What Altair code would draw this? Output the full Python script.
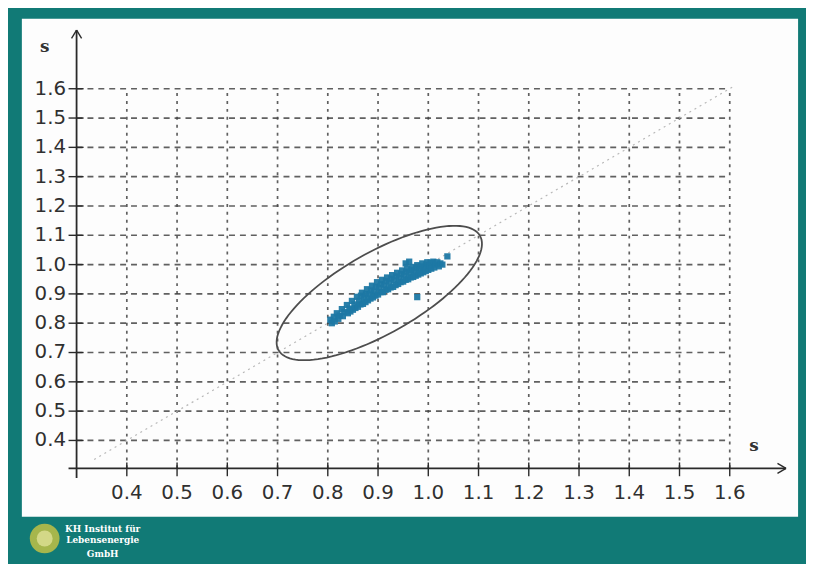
import altair as alt
import pandas as pd
import numpy as np

# ---------------- data ----------------
x_ticks = [0.4, 0.5, 0.6, 0.7, 0.8, 0.9, 1.0, 1.1, 1.2, 1.3, 1.4, 1.5, 1.6]
x_labels = ["0.4", "0.5", "0.6", "0.7", "0.8", "0.9", "1.0", "1.1", "1.2", "1.3", "1.4", "1.5", "1.6"]
y_ticks = [0.4, 0.5, 0.6, 0.7, 0.8, 0.9, 1.0, 1.1, 1.2, 1.3, 1.4, 1.5, 1.6]
y_labels = ["0.4", "0.5", "0.6", "0.7", "0.8", "0.9", "1.0", "1.1", "1.2", "1.3", "1.4", "1.5", "1.6"]

scatter_x = [0.805, 0.808, 0.812, 0.814, 0.818, 0.821, 0.824, 0.828, 0.830, 0.833,
             0.838, 0.840, 0.843, 0.845, 0.848, 0.850, 0.853, 0.855,
             0.858, 0.860, 0.862, 0.865, 0.866, 0.868, 0.870, 0.872, 0.875, 0.876,
             0.878, 0.880, 0.882, 0.885, 0.886, 0.888, 0.890, 0.892, 0.895, 0.896,
             0.898, 0.900, 0.902, 0.905, 0.906, 0.908, 0.910, 0.912, 0.915, 0.916,
             0.918, 0.920, 0.922, 0.925, 0.926, 0.928, 0.930, 0.932, 0.935, 0.936,
             0.938, 0.940, 0.942, 0.945, 0.946, 0.948, 0.950, 0.952, 0.955, 0.956,
             0.958, 0.960, 0.962, 0.965, 0.966, 0.968, 0.970, 0.972, 0.975, 0.976,
             0.978, 0.980, 0.982, 0.985, 0.986, 0.988, 0.990, 0.992, 0.995, 0.996,
             0.998, 1.000, 1.003, 1.006, 1.007, 1.010, 1.012, 1.015, 1.018, 1.021,
             1.024, 1.028,
             1.038, 0.978, 0.962, 0.955]
scatter_y = [0.812, 0.800, 0.822, 0.806, 0.834, 0.815, 0.826, 0.848, 0.824, 0.838,
             0.862, 0.834, 0.850, 0.840, 0.876, 0.846, 0.864, 0.852,
             0.890, 0.856, 0.876, 0.864, 0.894, 0.904, 0.866, 0.886, 0.872, 0.900,
             0.916, 0.878, 0.898, 0.884, 0.912, 0.928, 0.888, 0.908, 0.894, 0.924,
             0.940, 0.898, 0.920, 0.906, 0.934, 0.948, 0.906, 0.928, 0.914, 0.944,
             0.956, 0.916, 0.938, 0.922, 0.952, 0.964, 0.924, 0.946, 0.930, 0.960,
             0.972, 0.934, 0.954, 0.940, 0.968, 0.980, 0.942, 0.962, 0.948, 0.976,
             0.986, 0.950, 0.970, 0.956, 0.982, 0.992, 0.958, 0.976, 0.962, 0.988,
             0.998, 0.966, 0.984, 0.970, 0.994, 1.004, 0.974, 0.990, 0.978, 1.000,
             1.008, 0.982, 0.996, 0.986, 1.006, 1.010, 0.990, 1.000, 1.008, 0.994,
             1.004, 1.000,
             1.028, 0.889, 1.010, 1.004]

# confidence ellipse: centre and two conjugate semi-axes (data units)
ellipse_center = [0.9025, 0.903]
ellipse_a = [0.2004, 0.1953]
ellipse_b = [-0.0400, 0.1203]

# layout constants (data units)
X_DOMAIN = [0.1911, 1.736]
Y_DOMAIN = [0.1399, 1.839]
AXIS_X0 = 0.300   # position of vertical axis
AXIS_Y0 = 0.305   # position of horizontal axis
GRID_END = 1.6

# ---------------- build tables ----------------
xs = alt.Scale(domain=X_DOMAIN, nice=False, zero=False)
ys = alt.Scale(domain=Y_DOMAIN, nice=False, zero=False)


def X(f):
    return alt.X(f, type="quantitative", scale=xs, axis=None)


def Y(f):
    return alt.Y(f, type="quantitative", scale=ys, axis=None)


hgrid = pd.DataFrame({"y": y_ticks, "x1": AXIS_X0, "x2": GRID_END})
vgrid = pd.DataFrame({"x": x_ticks, "y1": AXIS_Y0, "y2": GRID_END})

diag = pd.DataFrame({"x": [0.335], "y": [0.335], "x2": [1.605], "y2": [1.605]})

axes_lines = pd.DataFrame({
    "x": [AXIS_X0, 0.284],
    "y": [0.272, AXIS_Y0],
    "x2": [AXIS_X0, 1.712],
    "y2": [1.800, AXIS_Y0],
})
arrows = pd.DataFrame({
    "x": [AXIS_X0 - 0.010, AXIS_X0 + 0.010, 1.712 - 0.017, 1.712 - 0.017],
    "y": [1.800 - 0.028, 1.800 - 0.028, AXIS_Y0 + 0.017, AXIS_Y0 - 0.017],
    "x2": [AXIS_X0, AXIS_X0, 1.712, 1.712],
    "y2": [1.800, 1.800, AXIS_Y0, AXIS_Y0],
})

yticks_df = pd.DataFrame({"y": y_ticks, "x1": AXIS_X0 - 0.016, "x2": AXIS_X0 + 0.014})
xticks_df = pd.DataFrame({"x": x_ticks, "y1": AXIS_Y0 - 0.027, "y2": AXIS_Y0 + 0.020})

t = np.linspace(0, 2 * np.pi, 121)
ell = pd.DataFrame({
    "t": t,
    "x": ellipse_center[0] + ellipse_a[0] * np.cos(t) + ellipse_b[0] * np.sin(t),
    "y": ellipse_center[1] + ellipse_a[1] * np.cos(t) + ellipse_b[1] * np.sin(t),
})

pts = pd.DataFrame({"x": scatter_x, "y": scatter_y})

ylab = pd.DataFrame({"y": y_ticks, "label": y_labels, "x": 0.279})
xlab = pd.DataFrame({"x": x_ticks, "label": x_labels, "y": 0.222})

titles = pd.DataFrame({"x": [0.2365, 1.648], "y": [1.741, 0.381], "label": ["s", "s"]})

logo_circle = pd.DataFrame({"x": [0.2365], "y": [0.0655]})
logo_text = pd.DataFrame({
    "x": [0.352, 0.352, 0.352],
    "y": [0.097, 0.059, 0.014],
    "label": ["KH Institut für", "Lebensenergie", "GmbH"],
})

GRID_COLOR = "#444444"

l_hgrid = alt.Chart(hgrid).mark_rule(color=GRID_COLOR, strokeWidth=1.7, strokeDash=[6, 5], opacity=0.85).encode(
    x=X("x1"), x2=alt.X2("x2"), y=Y("y"))
l_vgrid = alt.Chart(vgrid).mark_rule(color=GRID_COLOR, strokeWidth=1.7, strokeDash=[3, 5], opacity=0.85).encode(
    x=X("x"), y=Y("y1"), y2=alt.Y2("y2"))
l_diag = alt.Chart(diag).mark_rule(color="#b8b8b8", strokeWidth=1.2, strokeDash=[2, 4]).encode(
    x=X("x"), y=Y("y"), x2=alt.X2("x2"), y2=alt.Y2("y2"))
l_axes = alt.Chart(axes_lines).mark_rule(color="#2a2a2a", strokeWidth=1.8).encode(
    x=X("x"), y=Y("y"), x2=alt.X2("x2"), y2=alt.Y2("y2"))
l_arrows = alt.Chart(arrows).mark_rule(color="#2a2a2a", strokeWidth=1.4).encode(
    x=X("x"), y=Y("y"), x2=alt.X2("x2"), y2=alt.Y2("y2"))
l_yt = alt.Chart(yticks_df).mark_rule(color="#2a2a2a", strokeWidth=1.4).encode(
    x=X("x1"), x2=alt.X2("x2"), y=Y("y"))
l_xt = alt.Chart(xticks_df).mark_rule(color="#2a2a2a", strokeWidth=1.4).encode(
    x=X("x"), y=Y("y1"), y2=alt.Y2("y2"))
l_ell = alt.Chart(ell).mark_line(color="#4d4d4d", strokeWidth=1.8).encode(
    x=X("x"), y=Y("y"), order="t:Q")
l_pts = alt.Chart(pts).mark_square(color="#1e78a4", size=40, opacity=0.95).encode(
    x=X("x"), y=Y("y"))
l_ylab = alt.Chart(ylab).mark_text(align="right", baseline="middle", font="DejaVu Sans",
                                    fontSize=20, color="#303030").encode(
    x=X("x"), y=Y("y"), text="label:N")
l_xlab = alt.Chart(xlab).mark_text(align="center", baseline="middle", font="DejaVu Sans",
                                    fontSize=20, color="#303030").encode(
    x=X("x"), y=Y("y"), text="label:N")
l_titles = alt.Chart(titles).mark_text(align="center", baseline="middle", font="DejaVu Serif",
                                        fontSize=17, fontWeight="bold", color="#333333").encode(
    x=X("x"), y=Y("y"), text="label:N")
l_logo = alt.Chart(logo_circle).mark_circle(color="#a6b64c", size=900, opacity=1).encode(
    x=X("x"), y=Y("y"))
l_logo_in = alt.Chart(logo_circle).mark_circle(color="#d8dc8e", size=260, opacity=0.9).encode(
    x=X("x"), y=Y("y"))
l_logo_txt = alt.Chart(logo_text).mark_text(align="center", baseline="middle", font="DejaVu Serif",
                                             fontSize=9, fontWeight="bold", color="#ffffff").encode(
    x=X("x"), y=Y("y"), text="label:N")

chart = alt.layer(
    l_hgrid, l_vgrid, l_diag, l_axes, l_arrows, l_yt, l_xt, l_ell, l_pts,
    l_ylab, l_xlab, l_titles, l_logo, l_logo_in, l_logo_txt
).properties(
    width=784, height=503,
    autosize=alt.AutoSizeParams(type="none"),
    padding={"left": 14, "top": 8, "right": 8, "bottom": 45},
    background="#117a76",
).configure_view(fill="#fdfdfd", stroke=None)

chart.save("out.html", embed_options={"renderer": "svg", "actions": False})
